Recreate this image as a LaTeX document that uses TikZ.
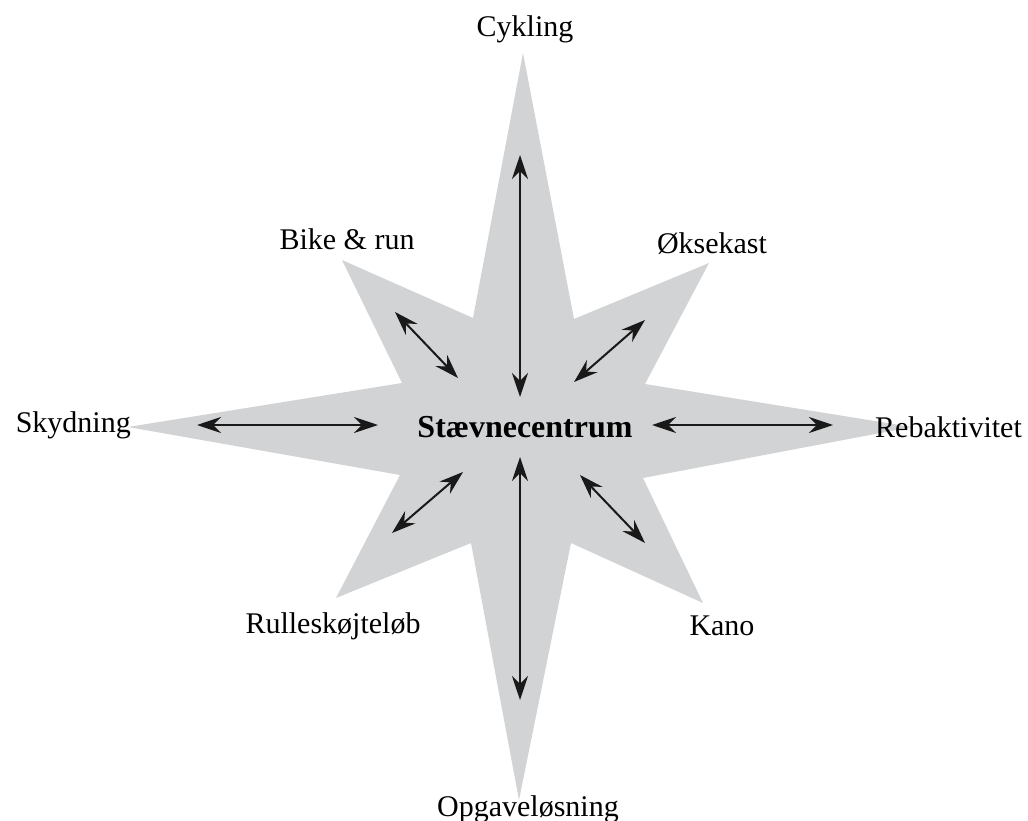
\documentclass[tikz,border=0pt]{standalone}
\usepackage{fontspec}
\setmainfont{Liberation Serif}
\usetikzlibrary{arrows.meta}
\definecolor{stargray}{RGB}{209,211,212}
\tikzset{
  twoway/.style={{Stealth[length=24pt,width=16pt,inset=8pt]}-{Stealth[length=24pt,width=16pt,inset=8pt]}, line width=2pt, draw=black!90},
  sport/.style={anchor=base, inner sep=0pt, font=\fontsize{30}{36}\selectfont},
}

\begin{document}
\begin{tikzpicture}[x=1pt,y=-1pt]
\useasboundingbox (0,0) rectangle (1028,821);
% the star
\fill[stargray] (523,53) -- (574,319) -- (709,263) -- (645,384) -- (912,427) -- (643,478)
  -- (703,603) -- (571,543) -- (519,800) -- (471,543) -- (336,598) -- (400,475)
  -- (128,427) -- (402,383) -- (342,260) -- (473,318) -- cycle;
% labels
\node[sport, font=\fontsize{32}{38}\selectfont\bfseries] (staevne) at (525,437) {Stævnecentrum};
\node[sport] (cyk) at (525,37) {Cykling};
\node[sport] (bike) at (347,249) {Bike \& run};
\node[sport] (oekse) at (712,253) {Øksekast};
\node[sport, anchor=base east] (skyd) at (131,432) {Skydning};
\node[sport, anchor=base west] (reb) at (875,437) {Rebaktivitet};
\node[sport] (rulle) at (333,633) {Rulleskøjteløb};
\node[sport] (kano) at (722,635) {Kano};
\node[sport] (opg) at (528,816) {Opgaveløsning};
% arrow ends
\coordinate (cyk-a) at (520,155);  \coordinate (cyk-b) at (520,397);
\coordinate (opg-a) at (520,700);  \coordinate (opg-b) at (520,457);
\coordinate (skyd-a) at (197,425); \coordinate (skyd-b) at (378,425);
\coordinate (reb-a) at (833,425);  \coordinate (reb-b) at (652,425);
\coordinate (bike-a) at (395,312); \coordinate (bike-b) at (458,378);
\coordinate (oekse-a) at (645,320); \coordinate (oekse-b) at (574,382);
\coordinate (rulle-a) at (392,533); \coordinate (rulle-b) at (463,472);
\coordinate (kano-a) at (645,543); \coordinate (kano-b) at (580,475);
\foreach \s in {cyk,opg,skyd,reb,bike,oekse,rulle,kano}
  \draw[twoway] (\s-a) -- (\s-b);
\end{tikzpicture}
\end{document}
